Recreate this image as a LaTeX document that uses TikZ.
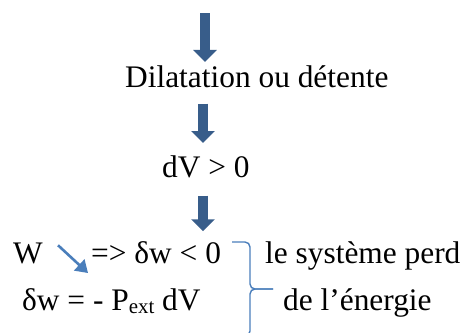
\documentclass[tikz,border=0pt]{standalone}
\usepackage{fontspec}
\setmainfont{Liberation Serif}
\usetikzlibrary{arrows.meta,positioning}
\definecolor{arrowblue}{HTML}{385D8A}
\definecolor{lineblue}{HTML}{4A7EBB}

\begin{document}
\begin{tikzpicture}[x=1bp,y=-1bp,
  txt/.style={inner sep=0pt,anchor=base west,font=\fontsize{31.5}{38}\selectfont},
  bigarr/.style={arrowblue,line width=10bp,-{Triangle[length=12bp 0,width=23bp 0]}},
  smallarr/.style={lineblue,line width=2.6bp,-{Triangle[length=12bp 0,width=15bp 0]}},
  brace/.style={lineblue,line width=1.4bp,rounded corners=5bp}]
\useasboundingbox (0,0) rectangle (470,332);
\coordinate (start) at (205,13);
\coordinate (col) at (203,0);
\node[txt] (dil) at (125,87) {Dilatation ou détente};
\node[txt] (dv) at (162,177) {dV > 0};
\node[txt] (w) at (13,263) {W};
\node[txt] (neg) at (91,263) {=> δw < 0};
\node[txt] (dw) at (22,310) {δw = - P\raisebox{-3bp}{\fontsize{21}{21}\selectfont ext} dV};
\node[txt] (perd) at (265,263) {le système perd};
\node[txt] (energie) at (283,310) {de l’énergie};
\draw[bigarr,shorten >=3bp] (start) -- (start |- dil.north);
\draw[bigarr,shorten <=16bp,shorten >=12bp] (dil.south -| col) -- (dv.north -| col);
\draw[bigarr,shorten <=18bp,shorten >=11bp] (dv.south -| col) -- (w.north -| col);
\draw[smallarr] ([shift={(15,3)}]w.north east) -- ([shift={(-3,10)}]neg.base west);
\draw[brace] (232,242) -- (250,242) -- (250,289) -- (273,289);
\draw[brace] (273,289) -- (250,289) -- (250,336) -- (232,336);
\end{tikzpicture}
\end{document}
